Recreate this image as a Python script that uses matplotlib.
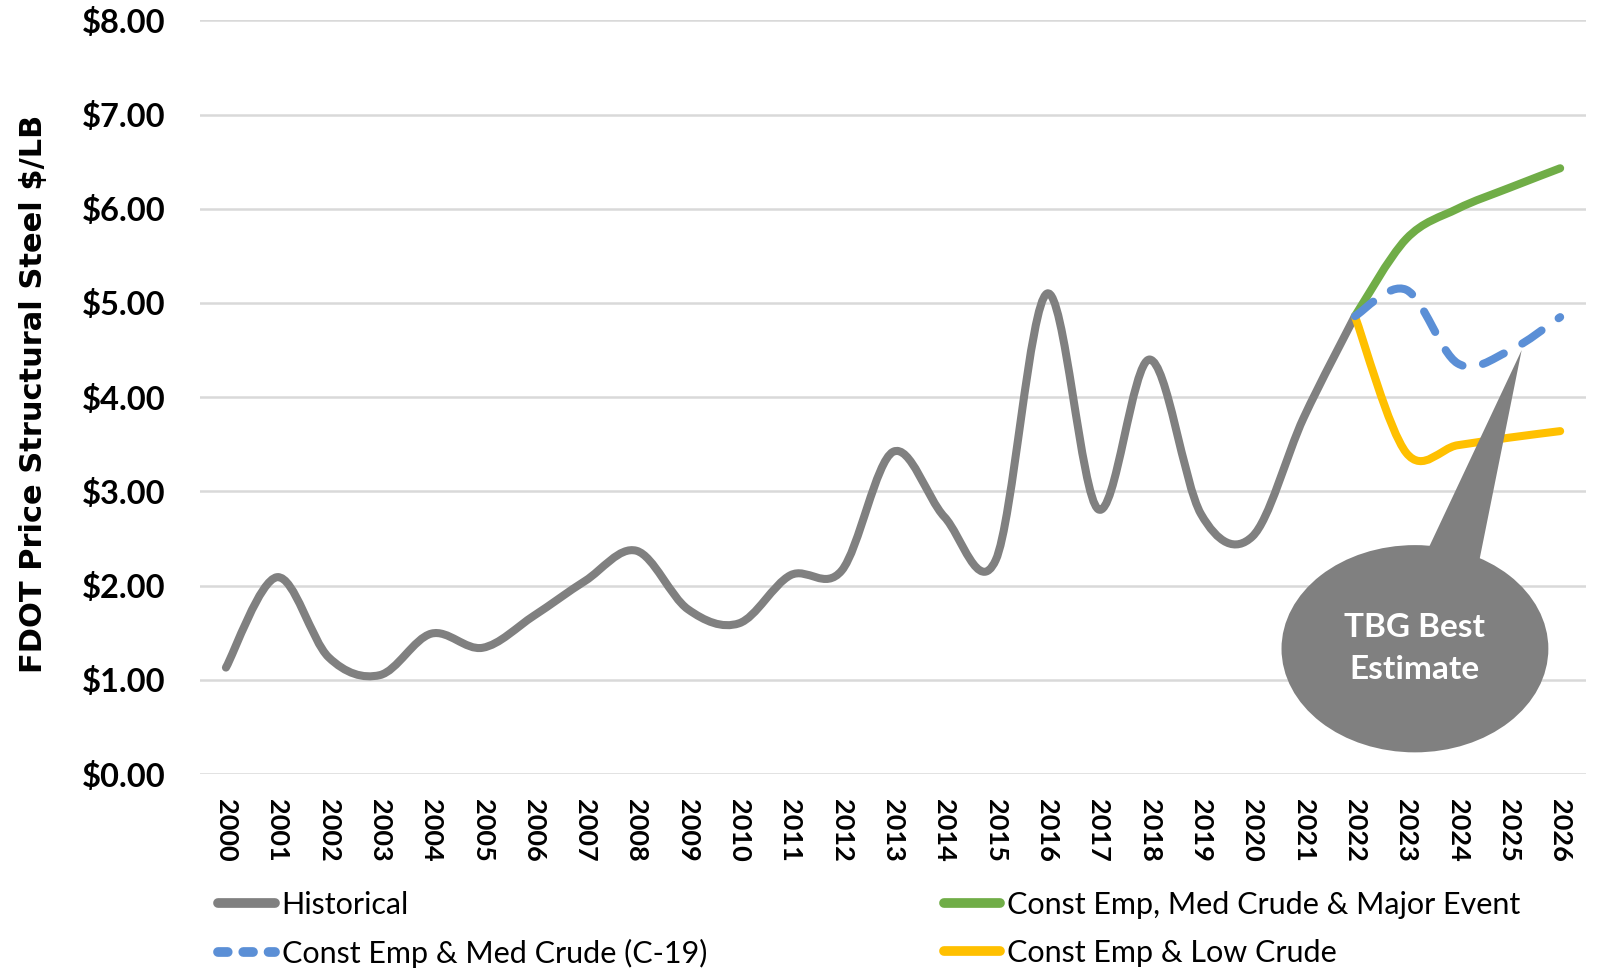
"""
FDOT structural steel price: historical series plus three projection scenarios,
drawn as Excel-style smoothed lines.
"""

import numpy as np
import matplotlib.pyplot as plt
from matplotlib.path import Path
from matplotlib.patches import PathPatch, Ellipse, Polygon
from matplotlib.lines import Line2D

# Data
years = [str(y) for y in range(2000, 2027)]
historical = [1.13, 2.09, 1.24, 1.05, 1.49, 1.34, 1.68, 2.05, 2.37, 1.75,
              1.60, 2.11, 2.16, 3.42, 2.73, 2.27, 5.10, 2.81, 4.40, 2.76,
              2.52, 3.78, 4.86]
proj_years = [2022, 2023, 2024, 2025, 2026]
major_event = [4.86, 5.68, 6.00, 6.22, 6.43]
med_crude_c19 = [4.86, 5.14, 4.36, 4.49, 4.85]
low_crude = [4.86, 3.41, 3.49, 3.57, 3.64]

COLORS = {
    "hist": "#808080",
    "green": "#70AD47",
    "blue": "#5B8FD6",
    "yellow": "#FFC000",
}

SANS = ["Lato", "DejaVu Sans"]


def smooth_path(xs, ys):
    """Cubic Bezier path through the points, like Excel's smoothed line."""
    pts = np.column_stack([xs, ys]).astype(float)
    n = len(pts)
    verts = [pts[0]]
    codes = [Path.MOVETO]
    for i in range(n - 1):
        prev = pts[i - 1] if i > 0 else pts[i]
        nxt = pts[i + 2] if i + 2 < n else pts[i + 1]
        c1 = pts[i] + (pts[i + 1] - prev) / 6.0
        c2 = pts[i + 1] - (nxt - pts[i]) / 6.0
        verts += [c1, c2, pts[i + 1]]
        codes += [Path.CURVE4] * 3
    return Path(verts, codes)


def main():
    fig = plt.figure(figsize=(15.97, 9.69), dpi=100)
    ax = fig.add_axes([0.1254, 0.2012, 0.8676, 0.7778])

    x_hist = np.arange(len(historical))
    x_proj = np.array(proj_years) - 2000

    lw = 5.8
    series = [
        (x_hist, historical, COLORS["hist"], "-", 3),
        (x_proj, major_event, COLORS["green"], "-", 3),
        (x_proj, low_crude, COLORS["yellow"], "-", 3),
        (x_proj, med_crude_c19, COLORS["blue"], (0, (2.9, 2.6)), 6),
    ]
    for xs, ys, color, ls, z in series:
        patch = PathPatch(smooth_path(xs, ys), fill=False, edgecolor=color,
                          linewidth=lw, linestyle=ls, capstyle="round",
                          joinstyle="round", zorder=z)
        ax.add_patch(patch)

    # Callout
    ax.add_patch(Polygon([(23.35, 2.3), (24.4, 2.2), (25.25, 4.5)],
                         closed=True, facecolor=COLORS["hist"],
                         edgecolor="none", zorder=4))
    ax.add_patch(Ellipse((23.17, 1.33), 5.2, 2.2, facecolor=COLORS["hist"],
                         edgecolor="none", zorder=4))
    ax.text(23.17, 1.33, "TBG Best\nEstimate", color="white", fontsize=24,
            fontweight="bold", family=SANS, ha="center", va="center",
            linespacing=1.55, zorder=5)

    ax.set_xlim(-0.5, len(years) - 0.5)
    ax.set_ylim(0, 8)
    ax.set_xticks(range(len(years)))
    ax.set_xticklabels(years, rotation=270, fontsize=19.5, fontweight="bold",
                       family=SANS, va="top", ha="center")
    ax.set_yticks(range(0, 9))
    ax.set_yticklabels([f"${v:.2f}" for v in range(0, 9)], fontsize=23.5,
                       fontweight="bold", family=SANS)
    ax.tick_params(axis="both", length=0)
    ax.tick_params(axis="y", pad=25)
    ax.tick_params(axis="x", pad=18)
    ax.grid(axis="y", color="#D9D9D9", linewidth=1.8)
    ax.set_axisbelow(True)
    for spine in ax.spines.values():
        spine.set_visible(False)

    fig.text(34 / 1597, 1 - 394 / 969, "FDOT Price Structural Steel $/LB",
             rotation=90, ha="center", va="center", fontsize=22,
             fontweight="bold", family="DejaVu Sans")

    handles = [
        Line2D([], [], color=COLORS["hist"], lw=7, solid_capstyle="round"),
        Line2D([], [], color=COLORS["blue"], lw=7, linestyle=(0, (1.0, 1.6)),
               dash_capstyle="round"),
        Line2D([], [], color=COLORS["green"], lw=7, solid_capstyle="round"),
        Line2D([], [], color=COLORS["yellow"], lw=7, solid_capstyle="round"),
    ]
    labels = ["Historical", "Const Emp & Med Crude (C-19)",
              "Const Emp, Med Crude & Major Event", "Const Emp & Low Crude"]
    fig.legend(handles, labels, ncol=2, loc="upper left",
               bbox_to_anchor=(0.1195, 0.109), frameon=False,
               prop={"family": SANS, "size": 22}, handlelength=1.85,
               handletextpad=0.22, columnspacing=7.75, labelspacing=0.65)

    fig.savefig("out.png", dpi=100)


if __name__ == "__main__":
    main()
